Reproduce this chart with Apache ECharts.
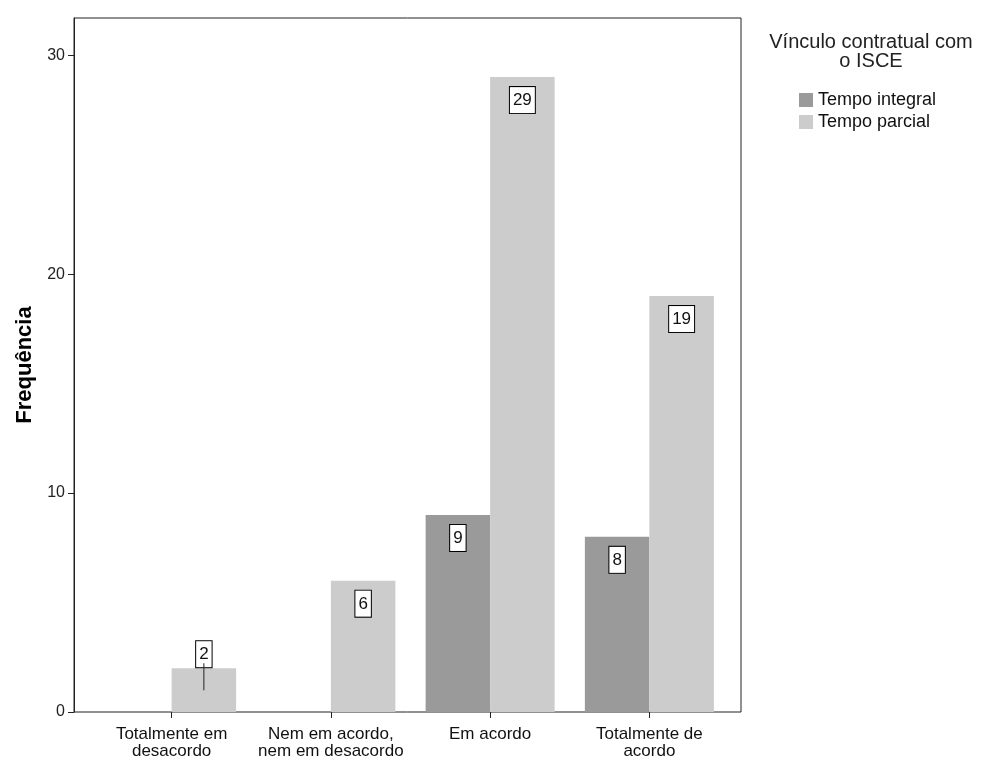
<!DOCTYPE html>
<html>
<head>
<meta charset="utf-8">
<script src="https://cdn.jsdelivr.net/npm/echarts@6/dist/echarts.min.js"></script>
<style>
html,body{margin:0;padding:0;background:#fff;}
#chart{width:981px;height:758px;}
</style>
</head>
<body>
<div id="chart"></div>
<script>
var categories = ['Totalmente em\ndesacordo', 'Nem em acordo,\nnem em desacordo', 'Em acordo', 'Totalmente de\nacordo'];
var seriesNames = ['Tempo integral', 'Tempo parcial'];
var integralValues = [0, 0, 9, 8];
var parcialValues = [2, 6, 29, 19];
var yTicks = [0, 10, 20, 30];
var legendTitle = 'Vínculo contratual com\no ISCE';
var yAxisTitle = 'Frequência';

var FONT = 'Liberation Sans, Arial, sans-serif';
var richStyles = {
  box: {backgroundColor:'#fff', borderColor:'#000', borderWidth:1, padding:[5,3,4,3], fontSize:17, color:'#111', fontFamily:FONT, lineHeight:18},
  ln: {width:1, height:27, backgroundColor:'#222'}
};

function buildData(vals){
  return vals.map(function(v){
    if (v === 0) return {value: v, label: {show:false}};
    if (v <= 3) {
      return {value: v, label: {show:true, position:'top', distance:0, offset:[0,22],
        formatter: '{box|' + v + '}\n{ln|}'}};
    }
    return {value: v};
  });
}

var chart = echarts.init(document.getElementById('chart'));
var yMax = 31.7;
chart.setOption({
  animation:false,
  backgroundColor:'#fff',
  textStyle:{fontFamily:FONT},
  title:{text:legendTitle, left:866, top:28, textAlign:'center',
    textStyle:{fontSize:20, fontWeight:'normal', color:'#222', fontFamily:FONT, lineHeight:19}},
  legend:{orient:'vertical', left:794, top:86, itemWidth:14, itemHeight:14, itemGap:4, icon:'rect',
    data: seriesNames,
    textStyle:{fontSize:18, color:'#111', fontFamily:FONT, lineHeight:18}},
  grid:[
    {left:74, top:18, width:667, height:694, show:true, borderColor:'#222', borderWidth:1, backgroundColor:'#fff',
      containLabel:false, outerBoundsMode:'none'},
    {left:92, top:18, width:637, height:694, containLabel:false, outerBoundsMode:'none'}
  ],
  xAxis:[
    {type:'value', gridIndex:0, show:false, min:0, max:1},
    {type:'category', gridIndex:1, data:categories,
      axisLine:{show:false},
      axisTick:{show:true, alignWithLabel:true, length:6, lineStyle:{color:'#222'}},
      axisLabel:{fontSize:17, color:'#111', fontFamily:FONT, margin:14, lineHeight:17, interval:0}}
  ],
  yAxis:[
    {type:'value', gridIndex:0, min:0, max:yMax, interval:10,
      name:yAxisTitle, nameLocation:'middle', nameGap:38, nameRotate:90,
      nameTextStyle:{fontSize:22, fontWeight:'bold', color:'#000', fontFamily:FONT},
      axisLine:{show:true, lineStyle:{color:'#222'}},
      axisTick:{show:true, length:6, customValues:yTicks, lineStyle:{color:'#222'}},
      axisLabel:{fontSize:16, color:'#222', fontFamily:FONT, margin:9, customValues:yTicks,
        formatter:function(v){ return yTicks.indexOf(v) >= 0 ? String(v) : ''; }},
      splitLine:{show:false}},
    {type:'value', gridIndex:1, min:0, max:yMax, show:false, splitLine:{show:false}}
  ],
  series:[
    {name:seriesNames[0], type:'bar', xAxisIndex:1, yAxisIndex:1, data:buildData(integralValues),
      barGap:'0%', barCategoryGap:'19%', itemStyle:{color:'#9a9a9a'},
      label:{show:true, position:'insideTop', distance:14, formatter:'{box|{c}}', rich:richStyles}},
    {name:seriesNames[1], type:'bar', xAxisIndex:1, yAxisIndex:1, data:buildData(parcialValues),
      barGap:'0%', barCategoryGap:'19%', itemStyle:{color:'#cccccc'},
      label:{show:true, position:'insideTop', distance:14, formatter:'{box|{c}}', rich:richStyles}}
  ]
});
</script>
</body>
</html>
